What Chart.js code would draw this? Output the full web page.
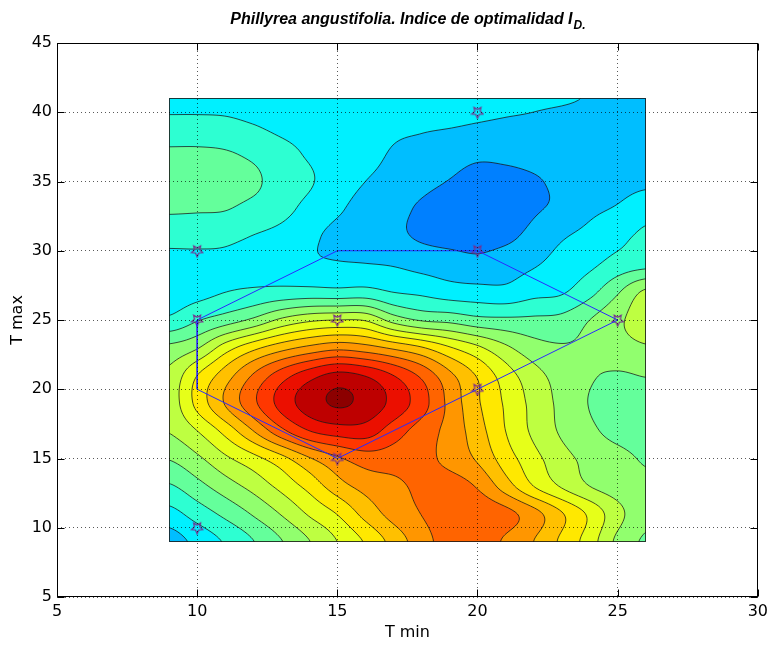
<!DOCTYPE html>
<html>
<head>
<meta charset="utf-8">
<script src="https://cdn.jsdelivr.net/npm/chart.js@4.4.1/dist/chart.umd.min.js"></script>
<style>
html,body{margin:0;padding:0;background:#fff;}
#wrap{width:773px;height:646px;position:relative;}
</style>
</head>
<body>
<div id="wrap"><canvas id="c" width="773" height="646"></canvas></div>
<script>
// ---- data ----
const chartTitle = 'Phillyrea angustifolia. Indice de optimalidad I';
const chartTitleSub = 'D.';
const xAxisTitle = 'T min';
const yAxisTitle = 'T max';
const xTicks = [5, 10, 15, 20, 25, 30];
const yTicks = [5, 10, 15, 20, 25, 30, 35, 40, 45];

// grid nodes of the optimality index field
const gridX = [9, 10, 11, 12, 13, 14, 15, 16, 17, 18, 19, 20, 21, 22, 23, 24, 25, 26];
const gridY = [9, 11, 13, 15, 17, 19, 21, 23, 25, 27, 29, 31, 33, 35, 37, 39, 41];
const zRow09 = [0.275,0.315,0.355,0.398,0.447,0.498,0.550,0.605,0.668,0.728,0.772,0.782,0.742,0.700,0.640,0.575,0.488,0.443];
const zRow11 = [0.332,0.372,0.412,0.455,0.503,0.556,0.602,0.667,0.718,0.751,0.780,0.787,0.767,0.720,0.655,0.590,0.516,0.465];
const zRow13 = [0.394,0.433,0.476,0.517,0.565,0.617,0.678,0.717,0.737,0.762,0.772,0.745,0.675,0.600,0.545,0.500,0.475,0.460];
const zRow15 = [0.453,0.490,0.540,0.583,0.633,0.695,0.742,0.775,0.775,0.765,0.735,0.693,0.625,0.567,0.518,0.485,0.465,0.445];
const zRow17 = [0.503,0.550,0.617,0.700,0.786,0.850,0.875,0.876,0.825,0.778,0.733,0.672,0.600,0.540,0.493,0.460,0.435,0.428];
const zRow19 = [0.522,0.615,0.704,0.788,0.868,0.925,0.956,0.935,0.885,0.822,0.736,0.657,0.593,0.535,0.487,0.448,0.428,0.432];
const zRow21 = [0.513,0.600,0.675,0.755,0.826,0.880,0.915,0.897,0.850,0.790,0.713,0.645,0.575,0.519,0.480,0.455,0.445,0.452];
const zRow23 = [0.462,0.495,0.575,0.635,0.680,0.713,0.735,0.720,0.690,0.655,0.605,0.560,0.510,0.470,0.455,0.460,0.480,0.495];
const zRow25 = [0.360,0.396,0.425,0.460,0.510,0.540,0.550,0.545,0.480,0.445,0.435,0.415,0.410,0.410,0.415,0.450,0.490,0.525];
const zRow27 = [0.325,0.335,0.350,0.360,0.367,0.370,0.367,0.370,0.350,0.340,0.325,0.320,0.315,0.335,0.345,0.385,0.445,0.510];
const zRow29 = [0.335,0.340,0.340,0.330,0.325,0.310,0.305,0.302,0.297,0.285,0.275,0.265,0.278,0.295,0.320,0.340,0.370,0.385];
const zRow31 = [0.364,0.362,0.360,0.348,0.335,0.310,0.288,0.280,0.262,0.244,0.235,0.233,0.240,0.265,0.295,0.315,0.335,0.362];
const zRow33 = [0.407,0.405,0.402,0.385,0.365,0.335,0.307,0.282,0.265,0.243,0.225,0.220,0.225,0.245,0.260,0.290,0.305,0.330];
const zRow35 = [0.430,0.428,0.420,0.410,0.375,0.355,0.325,0.300,0.282,0.265,0.248,0.232,0.235,0.245,0.260,0.275,0.282,0.290];
const zRow37 = [0.410,0.410,0.405,0.390,0.365,0.345,0.330,0.318,0.295,0.285,0.272,0.260,0.262,0.268,0.274,0.277,0.277,0.278];
const zRow39 = [0.365,0.365,0.362,0.352,0.340,0.335,0.335,0.328,0.310,0.305,0.302,0.297,0.293,0.290,0.282,0.278,0.272,0.272];
const zRow41 = [0.335,0.335,0.335,0.330,0.330,0.330,0.335,0.333,0.320,0.320,0.318,0.313,0.310,0.307,0.305,0.297,0.285,0.272];

const contourLevels = [0.25,0.30,0.35,0.40,0.45,0.50,0.55,0.60,0.65,0.70,0.75,0.80,0.85,0.90,0.95];
const bandColors = ['#0080ff','#00beff','#00f0ff','#2dffd2','#64ff9b','#91ff6e','#beff41','#e6ff19',
                    '#ffe800','#ffc000','#ff9600','#ff6400','#ff3700','#eb0f00','#be0000','#8c0000'];

// sampled sites and the polygon joining them
const siteX = [10, 10, 10, 15, 15, 20, 20, 20, 25];
const siteY = [10, 25, 30, 15, 25, 20, 30, 40, 25];
const hullX = [10, 10, 15, 20, 25, 20, 15, 10];
const hullY = [25, 20, 15, 20, 25, 30, 30, 25];

// ---- helpers ----
const gridZ = [zRow09,zRow11,zRow13,zRow15,zRow17,zRow19,zRow21,zRow23,zRow25,zRow27,zRow29,zRow31,zRow33,zRow35,zRow37,zRow39,zRow41];

function cr(p0, p1, p2, p3, t) {
  return 0.5 * ((2 * p1) + (-p0 + p2) * t + (2 * p0 - 5 * p1 + 4 * p2 - p3) * t * t + (-p0 + 3 * p1 - 3 * p2 + p3) * t * t * t);
}
function fieldAt(x, y) {
  const nx = gridX.length, ny = gridY.length;
  const fx = (x - gridX[0]) / (gridX[1] - gridX[0]);
  const fy = (y - gridY[0]) / (gridY[1] - gridY[0]);
  let i = Math.min(Math.max(Math.floor(fx), 0), nx - 2);
  let j = Math.min(Math.max(Math.floor(fy), 0), ny - 2);
  const tx = Math.min(Math.max(fx - i, 0), 1), ty = Math.min(Math.max(fy - j, 0), 1);
  const g = (a, b) => gridZ[Math.min(Math.max(b, 0), ny - 1)][Math.min(Math.max(a, 0), nx - 1)];
  const r = [];
  for (let m = -1; m <= 2; m++) {
    r.push(cr(g(i - 1, j + m), g(i, j + m), g(i + 1, j + m), g(i + 2, j + m), tx));
  }
  return cr(r[0], r[1], r[2], r[3], ty);
}
function hexRgb(h) {
  return [parseInt(h.slice(1, 3), 16), parseInt(h.slice(3, 5), 16), parseInt(h.slice(5, 7), 16)];
}

const contourPlugin = {
  id: 'contourField',
  beforeDatasetsDraw(chart) {
    const ctx = chart.ctx, xs = chart.scales.x, ys = chart.scales.y;
    const nx = gridX.length, ny = gridY.length;
    const L = Math.round(xs.getPixelForValue(gridX[0]));
    const R = Math.round(xs.getPixelForValue(gridX[nx - 1]));
    const T = Math.round(ys.getPixelForValue(gridY[ny - 1]));
    const B = Math.round(ys.getPixelForValue(gridY[0]));
    const W = R - L, H = B - T;
    const rgb = bandColors.map(hexRgb);
    const img = ctx.createImageData(W, H);
    for (let j = 0; j < H; j++) {
      const vy = ys.getValueForPixel(T + j + 0.5);
      for (let i = 0; i < W; i++) {
        const vx = xs.getValueForPixel(L + i + 0.5);
        const z = fieldAt(vx, vy);
        let k = 0;
        while (k < contourLevels.length && z >= contourLevels[k]) k++;
        const c = rgb[k], o = (j * W + i) * 4;
        img.data[o] = c[0]; img.data[o + 1] = c[1]; img.data[o + 2] = c[2]; img.data[o + 3] = 255;
      }
    }
    ctx.putImageData(img, L, T);

    // contour lines (marching squares on the same field)
    const step = 2;
    const px = [], py = [];
    for (let p = L; p < R; p += step) px.push(p);
    px.push(R);
    for (let p = T; p < B; p += step) py.push(p);
    py.push(B);
    const cols = px.length, rows = py.length;
    const vals = new Float64Array(cols * rows);
    for (let j = 0; j < rows; j++) {
      const vy = ys.getValueForPixel(py[j]);
      for (let i = 0; i < cols; i++) vals[j * cols + i] = fieldAt(xs.getValueForPixel(px[i]), vy);
    }
    ctx.save();
    ctx.beginPath(); ctx.rect(L, T, W, H); ctx.clip();
    ctx.strokeStyle = 'rgba(25,25,25,0.85)';
    ctx.lineWidth = 0.9;
    for (const lev of contourLevels) {
      ctx.beginPath();
      for (let j = 0; j < rows - 1; j++) {
        for (let i = 0; i < cols - 1; i++) {
          const a = vals[j * cols + i], b = vals[j * cols + i + 1];
          const c = vals[(j + 1) * cols + i + 1], d = vals[(j + 1) * cols + i];
          const pts = [];
          const x0 = px[i], x1 = px[i + 1], y0 = py[j], y1 = py[j + 1];
          if ((a >= lev) !== (b >= lev)) { const t = (lev - a) / (b - a); pts.push([x0 + t * (x1 - x0), y0]); }
          if ((b >= lev) !== (c >= lev)) { const t = (lev - b) / (c - b); pts.push([x1, y0 + t * (y1 - y0)]); }
          if ((d >= lev) !== (c >= lev)) { const t = (lev - d) / (c - d); pts.push([x0 + t * (x1 - x0), y1]); }
          if ((a >= lev) !== (d >= lev)) { const t = (lev - a) / (d - a); pts.push([x0, y0 + t * (y1 - y0)]); }
          if (pts.length === 2) {
            ctx.moveTo(pts[0][0], pts[0][1]); ctx.lineTo(pts[1][0], pts[1][1]);
          } else if (pts.length === 4) {
            ctx.moveTo(pts[0][0], pts[0][1]); ctx.lineTo(pts[3][0], pts[3][1]);
            ctx.moveTo(pts[1][0], pts[1][1]); ctx.lineTo(pts[2][0], pts[2][1]);
          }
        }
      }
      ctx.stroke();
    }
    ctx.restore();
    ctx.save();
    ctx.strokeStyle = 'rgba(25,25,25,0.85)';
    ctx.lineWidth = 1;
    ctx.strokeRect(L + 0.5, T + 0.5, W - 1, H - 1);
    ctx.restore();
  },
  afterDraw(chart) {
    const ctx = chart.ctx, a = chart.chartArea, xs = chart.scales.x, ys = chart.scales.y;
    ctx.save();
    ctx.strokeStyle = '#000';
    ctx.lineWidth = 1;
    const l = Math.round(a.left) + 0.5, r = Math.round(a.right) - 0.5;
    const t = Math.round(a.top) + 0.5, b = Math.round(a.bottom) - 0.5;
    ctx.strokeRect(l, t, r - l, b - t);
    const tl = 7;
    ctx.beginPath();
    for (const v of xTicks) {
      const p = Math.round(xs.getPixelForValue(v)) + 0.5;
      ctx.moveTo(p, b); ctx.lineTo(p, b - tl);
      ctx.moveTo(p, t); ctx.lineTo(p, t + tl);
    }
    for (const v of yTicks) {
      const p = Math.round(ys.getPixelForValue(v)) + 0.5;
      ctx.moveTo(l, p); ctx.lineTo(l + tl, p);
      ctx.moveTo(r, p); ctx.lineTo(r - tl, p);
    }
    ctx.stroke();
    // title with subscript
    const mainFont = 'italic bold 16px "Liberation Sans", Arial, sans-serif';
    const subFont = 'italic bold 12px "Liberation Sans", Arial, sans-serif';
    ctx.font = mainFont;
    const w1 = ctx.measureText(chartTitle).width;
    ctx.font = subFont;
    const w2 = ctx.measureText(chartTitleSub).width;
    const cx = (a.left + a.right) / 2;
    const x0 = cx - (w1 + w2) / 2;
    ctx.fillStyle = '#000';
    ctx.textBaseline = 'alphabetic';
    ctx.textAlign = 'left';
    ctx.font = mainFont;
    ctx.fillText(chartTitle, x0, 24);
    ctx.font = subFont;
    ctx.fillText(chartTitleSub, x0 + w1 + 1, 29);
    ctx.restore();
  }
};

function makeStar() {
  const c = document.createElement('canvas');
  c.width = 14; c.height = 14;
  const g = c.getContext('2d');
  g.beginPath();
  for (let k = 0; k < 10; k++) {
    const rr = k % 2 === 0 ? 6 : 2.8;
    const ang = Math.PI / 2 + k * Math.PI / 5;
    const X = 7 + rr * Math.cos(ang), Y = 7 + rr * Math.sin(ang);
    if (k === 0) g.moveTo(X, Y); else g.lineTo(X, Y);
  }
  g.closePath();
  g.strokeStyle = '#7a2c8c';
  g.lineWidth = 1.2;
  g.stroke();
  return c;
}

const tickFont = { family: 'DejaVu Sans', size: 16 };
const titleFont = { family: 'DejaVu Sans', size: 16 };

new Chart(document.getElementById('c'), {
  type: 'scatter',
  data: {
    datasets: [
      {
        label: 'poligono',
        data: hullX.map((v, i) => ({ x: v, y: hullY[i] })),
        showLine: true,
        borderColor: '#2a2aff',
        borderWidth: 1,
        pointRadius: 0,
        fill: false,
        tension: 0
      },
      {
        label: 'sitios',
        data: siteX.map((v, i) => ({ x: v, y: siteY[i] })),
        pointStyle: makeStar(),
        pointRadius: 6,
        showLine: false
      }
    ]
  },
  options: {
    responsive: false,
    animation: false,
    devicePixelRatio: 1,
    layout: { padding: { top: 43, right: 11, bottom: 0, left: 0 } },
    plugins: { legend: { display: false }, tooltip: { enabled: false }, title: { display: false } },
    scales: {
      x: {
        type: 'linear', min: 5, max: 30,
        afterBuildTicks: (s) => { s.ticks = xTicks.map(v => ({ value: v })); },
        afterFit: (s) => { s.height = 49; },
        ticks: { font: tickFont, color: '#000', padding: 5, maxRotation: 0 },
        grid: { z: 1, color: 'rgba(0,0,0,0.65)', lineWidth: 1, drawTicks: false, borderDash: [1, 3] },
        border: { display: false, dash: [1, 3] },
        title: { display: true, text: xAxisTitle, font: titleFont, color: '#000', padding: { top: 0, bottom: 4 } }
      },
      y: {
        type: 'linear', min: 5, max: 45,
        afterBuildTicks: (s) => { s.ticks = yTicks.map(v => ({ value: v })); },
        afterFit: (s) => { s.width = 57; },
        ticks: { font: tickFont, color: '#000', padding: 5 },
        grid: { z: 1, color: 'rgba(0,0,0,0.65)', lineWidth: 1, drawTicks: false, borderDash: [1, 3] },
        border: { display: false, dash: [1, 3] },
        title: { display: true, text: yAxisTitle, font: titleFont, color: '#000', padding: { top: 8, bottom: 0 } }
      }
    }
  },
  plugins: [contourPlugin]
});
</script>
</body>
</html>
